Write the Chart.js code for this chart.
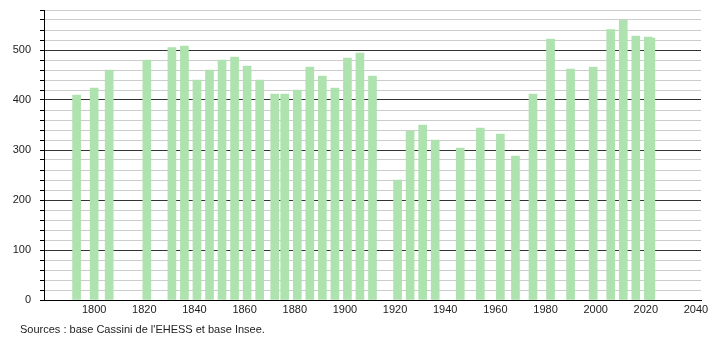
<!DOCTYPE html>
<html>
<head>
<meta charset="utf-8">
<script src="https://cdn.jsdelivr.net/npm/chart.js@4"></script>
<style>
  body { margin: 0; background: #fff; }
  #wrap { position: relative; width: 710px; height: 340px; }
  #source {
    position: absolute; left: 20px; top: 323px;
    font: 11px "Liberation Sans", Arial, sans-serif; color: #222;
  }
</style>
</head>
<body>
<div id="wrap">
  <canvas id="popChart" width="710" height="340"></canvas>
  <div id="source">Sources : base Cassini de l'EHESS et base Insee.</div>
</div>
<script>
const years = [1793, 1800, 1806, 1821, 1831, 1836, 1841, 1846, 1851, 1856,
  1861, 1866, 1872, 1876, 1881, 1886, 1891, 1896, 1901, 1906,
  1911, 1921, 1926, 1931, 1936, 1946, 1954, 1962, 1968, 1975,
  1982, 1990, 1999, 2006, 2011, 2016, 2021, 2022];

const population = [410, 424, 460, 480, 505, 508, 440, 460, 480, 486,
  468, 440, 412, 412, 420, 466, 448, 424, 484, 494,
  448, 240, 338, 350, 320, 304, 344, 332, 288, 412,
  522, 462, 466, 541, 560, 528, 526, 524];

const yearTicks = [1800, 1820, 1840, 1860, 1880, 1900, 1920, 1940, 1960, 1980, 2000, 2020, 2040];

const ctx = document.getElementById('popChart');

new Chart(ctx, {
  type: 'bar',
  data: {
    datasets: [{
      data: years.map((y, i) => ({ x: y, y: population[i] })),
      backgroundColor: '#aee2ae',
      borderWidth: 0,
      barThickness: 8
    }]
  },
  options: {
    responsive: false,
    animation: false,
    devicePixelRatio: 1,
    layout: { padding: { top: 10, right: 9, left: 0, bottom: 0 } },
    plugins: {
      legend: { display: false },
      tooltip: { enabled: false }
    },
    scales: {
      x: {
        type: 'linear',
        offset: false,
        min: 1780,
        max: 2042,
        afterBuildTicks: (scale) => {
          scale.ticks = yearTicks.map(v => ({ value: v }));
        },
        afterFit: (scale) => {
          scale.height = 40;
          scale.paddingLeft = 0;
          scale.paddingRight = 0;
        },
        grid: { display: false, drawTicks: false },
        border: { display: true, color: '#000', width: 1 },
        ticks: {
          autoSkip: false,
          maxRotation: 0,
          padding: 3,
          color: '#222',
          font: { family: 'Liberation Sans', size: 11 },
          callback: (v) => String(v)
        }
      },
      y: {
        min: 0,
        max: 580,
        afterFit: (scale) => {
          scale.width = 44;
          scale.paddingTop = 0;
          scale.paddingBottom = 0;
        },
        grid: {
          color: (c) => (c.tick && c.tick.value % 100 === 0) ? '#333' : '#cccccc',
          tickColor: '#000',
          tickLength: 4,
          lineWidth: 1
        },
        border: { display: true, color: '#000', width: 1 },
        ticks: {
          stepSize: 20,
          autoSkip: false,
          padding: 9,
          color: '#222',
          font: { family: 'Liberation Sans', size: 11 },
          callback: (v) => (v % 100 === 0 ? v : '')
        }
      }
    }
  }
});
</script>
</body>
</html>
